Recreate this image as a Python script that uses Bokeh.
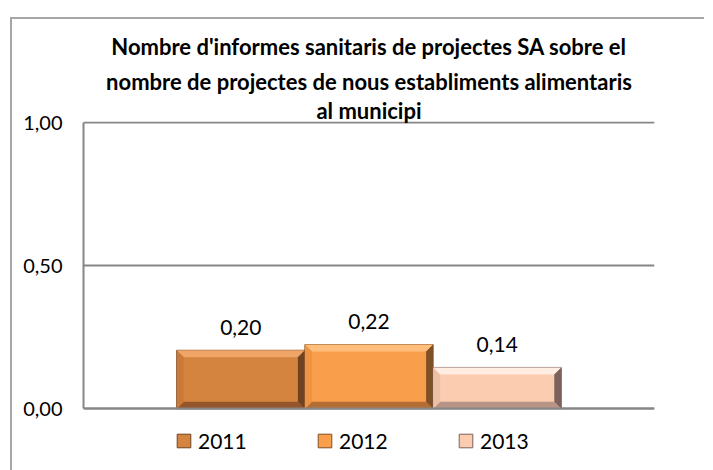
import numpy as np
from bokeh.plotting import figure
from bokeh.models import Range1d, Title, Legend, LegendItem, FixedTicker
from bokeh.core.properties import value
from bokeh.embed import file_html
from bokeh.resources import INLINE

# ---- data ----
series = ["2011", "2012", "2013"]
values = [0.204, 0.224, 0.144]
value_labels = ["0,20", "0,22", "0,14"]
y_ticks = [0.0, 0.5, 1.0]
y_tick_labels = ["0,00", "0,50", "1,00"]
title_lines = [
    "Nombre d'informes sanitaris de projectes SA sobre el",
    "nombre de projectes de nous establiments alimentaris",
    "al municipi",
]

main_cols = ["#D5843F", "#F99E4B", "#FBCCB0"]
top_cols = ["#EFA566", "#FFBE7C", "#FFEDE2"]
bot_cols = ["#94552A", "#B46E33", "#B89486"]
left_cols = ["#C97A3A", "#EE9444", "#EDBFA4"]
right_cols = ["#6E4322", "#7F4F26", "#7C625A"]

FONT = "Lato"
FW = 571
PX_PER_UNIT = 286
FH = 335
y_top = 1.004
y_bottom = y_top - FH / PX_PER_UNIT

p = figure(frame_width=FW, frame_height=FH, output_backend="svg", toolbar_location=None,
           x_range=Range1d(0, 1), y_range=Range1d(y_bottom, y_top),
           min_border_left=71, min_border_right=50, min_border_top=102,
           min_border_bottom=14, title=None)
p.styles = {"border-left": "2px solid #A6A6A6", "border-top": "2px solid #A6A6A6",
            "margin-left": "10px", "margin-top": "17px"}
p.outline_line_color = None
p.background_fill_color = "white"
p.border_fill_color = "white"

# axes
p.xaxis.ticker = FixedTicker(ticks=[])
p.xaxis.fixed_location = 0
p.xaxis.axis_line_color = "#868686"
p.xaxis.axis_line_width = 2
p.xaxis.major_tick_out = 0
p.xaxis.major_label_standoff = 0
p.xgrid.visible = False

p.yaxis.ticker = FixedTicker(ticks=y_ticks)
p.yaxis.bounds = (0, 1)
p.yaxis.major_label_overrides = {t: l for t, l in zip(y_ticks, y_tick_labels)}
p.yaxis.major_tick_line_color = None
p.yaxis.major_tick_out = 0
p.yaxis.major_tick_in = 0
p.yaxis.minor_tick_line_color = None
p.yaxis.axis_line_color = "#868686"
p.yaxis.axis_line_width = 2
p.yaxis.major_label_text_font = FONT
p.yaxis.major_label_text_font_size = "20px"
p.yaxis.major_label_text_color = "black"
p.yaxis.major_label_standoff = 21
p.ygrid.grid_line_color = "#868686"
p.ygrid.grid_line_width = 2

# bars
bw = 0.2245
bx = 7 / FW
by = 7 / PX_PER_UNIT
renderers = []
for i, (s, v) in enumerate(zip(series, values)):
    c = 0.5 + (i - 1) * bw
    l, r = c - bw / 2, c + bw / 2
    q = p.quad(left=[l], right=[r], bottom=[0], top=[v], fill_color=main_cols[i],
               line_color=right_cols[i], line_width=1)
    renderers.append(q)
    xs = [
        [l, r, r - bx, l + bx],
        [l, r, r - bx, l + bx],
        [l, l, l + bx, l + bx],
        [r, r, r - bx, r - bx],
    ]
    ys = [
        [v, v, v - by, v - by],
        [0, 0, by, by],
        [0, v, v - by, by],
        [0, v, v - by, by],
    ]
    p.patches(xs=xs, ys=ys,
              fill_color=[top_cols[i], bot_cols[i], left_cols[i], right_cols[i]],
              line_color=None)
    p.text(x=[c], y=[v], text=[value_labels[i]], text_font=value(FONT),
           text_font_size="21px", text_align="center", text_baseline="middle",
           y_offset=-23, text_color="black")

# title: three centred lines, added from the frame outwards
for t, so in zip(reversed(title_lines), [-5, 6, 5]):
    p.add_layout(Title(text=t, align="center", text_font=FONT,
                       text_font_size="22px", text_font_style="bold",
                       text_color="black", standoff=so, offset=0), "above")

legend = Legend(items=[LegendItem(label=s, renderers=[r]) for s, r in zip(series, renderers)],
                orientation="horizontal", location=(92, 3),
                glyph_width=17, glyph_height=17, label_standoff=6,
                label_width=100, spacing=18, padding=0, margin=0,
                label_text_font=FONT, label_text_font_size="21px",
                label_text_color="black",
                border_line_alpha=0, background_fill_alpha=0)
p.add_layout(legend)

open("out.html", "w").write(file_html(p, INLINE))
